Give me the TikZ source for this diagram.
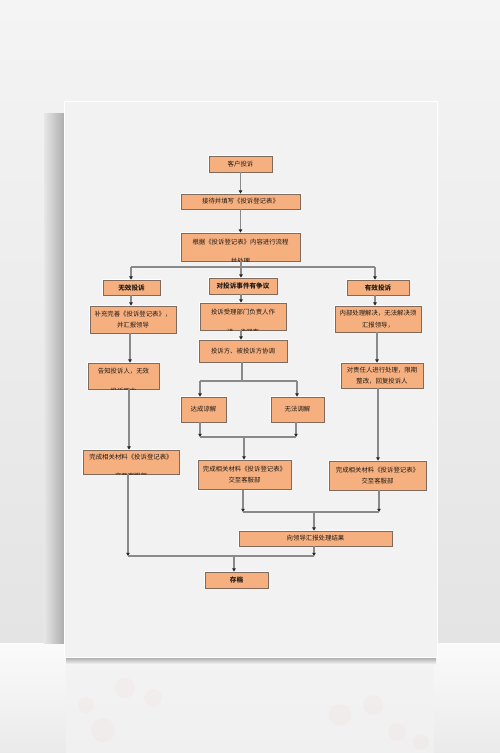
\documentclass[tikz,border=0pt]{standalone}
\usepackage{fontspec}
\setmainfont{Noto Sans CJK SC}
\usetikzlibrary{arrows.meta,calc}
\definecolor{boxfill}{HTML}{F6B080}
\definecolor{boxline}{HTML}{7F6A5E}
\definecolor{txtcol}{HTML}{201A16}
\definecolor{linecol}{HTML}{8A8A8A}
\definecolor{paper}{HTML}{F2F2F2}
\definecolor{wallt}{HTML}{F4F4F4}
\definecolor{wallb}{HTML}{E4E4E4}
\definecolor{floorc}{HTML}{F4F4F4}
\tikzset{
  boxnode/.style={draw=boxline, fill=boxfill, line width=0.7pt, inner sep=0pt,
    font=\fontsize{6.4}{11.3}\selectfont, text=txtcol, align=center,
    preaction={draw=white, line width=2.2pt}},
  boldbox/.style={boxnode, font=\fontsize{6.6}{11}\selectfont\bfseries},
  txtnode/.style={inner sep=0pt, font=\fontsize{6.4}{11}\selectfont, text=txtcol},
  ln/.style={draw=linecol, line width=1.1pt},
  arr/.style={draw=linecol, line width=1.1pt, -{Triangle[length=3.2pt,width=3.4pt,color=black!85]}}
}
\begin{document}
\begin{tikzpicture}[x=1pt,y=-1pt]
% ---------- background ----------
\useasboundingbox (0,0) rectangle (500,753);
\fill[wallt] (0,0) rectangle (500,753);
\shade[top color=wallt, bottom color=wallb] (0,0) rectangle (500,643);
\shade[top color=white!60!floorc, bottom color=floorc!96!black] (0,643) rectangle (500,753);
% left shadow of the sheet
\shade[left color=wallb!90!white, right color=black!32] (44,113) rectangle (64,643);
% reflection
\fill[black!5, opacity=0.8] (66,659) rectangle (434,753);
\foreach \cx/\cy/\r in {125/688/10, 153/698/9, 86/705/8, 103/730/12, 340/715/11, 373/705/10, 397/732/9, 421/742/8}
  \fill[red!40!white, opacity=0.05] (\cx,\cy) circle (\r);
% sheet shadow under bottom edge
\shade[top color=black!30, bottom color=floorc] (66,658) rectangle (436,664);
% sheet
\fill[paper] (64,101) rectangle (438,658);
\draw[white, line width=1pt] (64.5,101.5) rectangle (437.5,657.5);

% ---------- boxes ----------
\node[boxnode, minimum width=63pt, minimum height=16pt] (n1) at (240.5,164) {客户投诉};
\node[boxnode, minimum width=119pt, minimum height=15pt] (n2) at (240.5,201.5) {接待并填写《投诉登记表》};
\node[boxnode, minimum width=119pt, minimum height=28pt] (n3) at (240.5,247) {};
\begin{scope}
  \clip (n3.south west) rectangle (n3.north east);
  \node[txtnode] (n3a) at (240.5,241.7) {根据《投诉登记表》内容进行流程};
  \node[txtnode] (n3b) at (240.5,261.5) {并处理};
\end{scope}

\node[boldbox, minimum width=57pt, minimum height=15pt] (L1) at (131.5,287.5) {无效投诉};
\node[boldbox, minimum width=68pt, minimum height=16pt] (M1) at (243,286) {对投诉事件有争议};
\node[boldbox, minimum width=62pt, minimum height=15pt] (R1) at (378,287.5) {有效投诉};

% left column
\node[boxnode, minimum width=86pt, minimum height=27pt] (L2) at (133,319.5) {补充完善《投诉登记表》，\\并汇报领导};
\node[boxnode, minimum width=71pt, minimum height=26pt] (L3) at (123.5,376) {};
\begin{scope}
  \clip (L3.south west) rectangle (L3.north east);
  \node[txtnode] (L3a) at (123.5,371) {告知投诉人，无效};
  \node[txtnode] (L3b) at (123.5,391) {投诉原由};
\end{scope}
\node[boxnode, minimum width=96pt, minimum height=24pt] (L4) at (131,462) {};
\begin{scope}
  \clip (L4.south west) rectangle (L4.north east);
  \node[txtnode] (L4a) at (131,457.3) {完成相关材料《投诉登记表》};
  \node[txtnode] (L4b) at (131,476) {交至客服部};
\end{scope}

% middle column
\node[boxnode, minimum width=86pt, minimum height=27pt] (M2) at (243,316.5) {};
\begin{scope}
  \clip (M2.south west) rectangle (M2.north east);
  \node[txtnode] (M2a) at (243,311.7) {投诉受理部门负责人作};
  \node[txtnode] (M2b) at (243,332) {进一步调查};
\end{scope}
\node[boxnode, minimum width=88pt, minimum height=22pt] (M3) at (243,351) {投诉方、被投诉方协调};
\node[boxnode, minimum width=45pt, minimum height=25pt] (M4) at (203.5,409.5) {达成谅解};
\node[boxnode, minimum width=53pt, minimum height=25pt] (M5) at (297.5,409.5) {无法调解};
\node[boxnode, minimum width=93pt, minimum height=29.5pt] (M6) at (244.5,474.7) {完成相关材料《投诉登记表》\\交至客服部};

% right column
\node[boxnode, minimum width=86pt, minimum height=26pt] (R2) at (378,319) {内部处理解决，无法解决须\\汇报领导，};
\node[boxnode, minimum width=82pt, minimum height=25pt] (R3) at (382,375.5) {对责任人进行处理，限期\\整改，回复投诉人};
\node[boxnode, minimum width=97pt, minimum height=29pt] (R4) at (377.5,475.5) {完成相关材料《投诉登记表》\\交至客服部};

% bottom
\node[boxnode, minimum width=153pt, minimum height=15pt] (F1) at (315.5,538.5) {向领导汇报处理结果};
\node[boldbox, minimum width=63pt, minimum height=16pt] (F2) at (236.5,580) {存档};

% ---------- junction coordinates ----------
\coordinate (jt)  at (241,267);
\coordinate (jtl) at (131,267);
\coordinate (jtr) at (375,267);
\coordinate (xl2) at (130,0);
\coordinate (xl3) at (129,0);
\coordinate (xr2) at (377,0);
\coordinate (xr3) at (378,0);
\coordinate (jm1)  at (242,381);
\coordinate (jm1l) at (200,381);
\coordinate (jm1r) at (297,381);
\coordinate (jm2)  at (244,437);
\coordinate (jm2l) at (200,437);
\coordinate (jm2r) at (296,437);
\coordinate (jr)  at (314,512);
\coordinate (jrl) at (243,512);
\coordinate (jrr) at (379,512);
\coordinate (jb)  at (234,556);
\coordinate (jbl) at (128,556);
\coordinate (jbr) at (314,556);

% ---------- connectors ----------
\draw[arr] (n1.south) -- (n2.north);
\draw[arr] (n2.south) -- (n3.north);
\draw[ln] (n3.south -| jt) -- (jt);
\draw[ln] (jtl) -- (jtr);
\draw[arr] (jtl) -- (L1.north -| jtl);
\draw[arr] (jt) -- (M1.north -| jt);
\draw[arr] (jtr) -- (R1.north -| jtr);

\draw[arr] (L1.south -| jtl) -- (L2.north -| jtl);
\draw[arr] (L2.south -| xl2) -- (L3.north -| xl2);
\draw[arr] (L3.south -| xl3) -- (L4.north -| xl3);
\draw[arr] (L4.south -| jbl) -- (jbl);

\draw[arr] (M1.south -| jt) -- (M2.north -| jt);
\draw[arr] (M2.south -| jt) -- (M3.north -| jt);
\draw[ln] (M3.south -| jm1) -- (jm1);
\draw[ln] (jm1l) -- (jm1r);
\draw[arr] (jm1l) -- (M4.north -| jm1l);
\draw[arr] (jm1r) -- (M5.north -| jm1r);
\draw[arr] (M4.south -| jm2l) -- (jm2l);
\draw[arr] (M5.south -| jm2r) -- (jm2r);
\draw[ln] (jm2l) -- (jm2r);
\draw[arr] (jm2) -- (M6.north -| jm2);

\draw[arr] (R1.south -| jtr) -- (R2.north -| jtr);
\draw[arr] (R2.south -| xr2) -- (R3.north -| xr2);
\draw[arr] (R3.south -| xr3) -- (R4.north -| xr3);

\draw[arr] (M6.south -| jrl) -- (jrl);
\draw[arr] (R4.south -| jrr) -- (jrr);
\draw[ln] (jrl) -- (jrr);
\draw[arr] (jr) -- (F1.north -| jr);
\draw[arr] (F1.south -| jbr) -- (jbr);
\draw[ln] (jbl) -- (jbr);
\draw[arr] (jb) -- (F2.north -| jb);
\end{tikzpicture}
\end{document}
